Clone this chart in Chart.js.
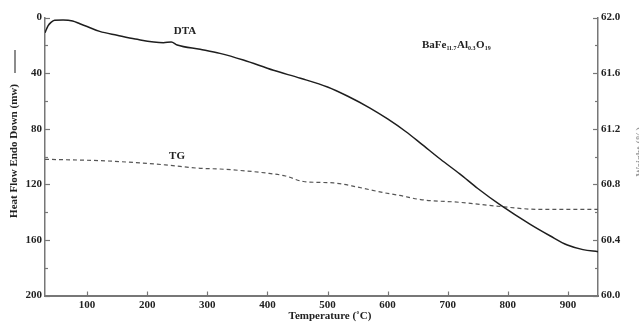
<!DOCTYPE html>
<html><head><meta charset="utf-8">
<script src="https://cdn.jsdelivr.net/npm/chart.js@4.4.1/dist/chart.umd.min.js"></script>
<style>html,body{margin:0;padding:0;background:#fff;}canvas{display:block;}</style>
</head><body>
<canvas id="c" width="639" height="323"></canvas>
<script>
const dtaTemps = [30,35,40,46,60,76,88,100,121,150,180,227,240,250,288,321,360,410,455,500,533,570,600,630,655,688,720,750,788,838,870,899,925,950];
const dtaValues = [11,6,3.5,2,1.8,2.5,4.5,6.5,10,12.8,15.5,18.1,17.6,19.8,22.9,25.8,30.6,38,43.7,50,56.5,65,73,82,90.5,102,112.5,123,135,149,157,163.7,167,168.5];
const tgTemps = [30,121,166,230,288,321,400,430,460,510,550,593,620,655,721,788,850,950];
const tgValues = [60.98,60.97,60.96,60.94,60.915,60.91,60.88,60.86,60.82,60.81,60.78,60.74,60.72,60.69,60.67,60.64,60.62,60.62];
const xTicks = [100,200,300,400,500,600,700,800,900];
const leftTicks = [0,40,80,120,160,200];
const rightTicks = [60.0,60.4,60.8,61.2,61.6,62.0];

const FONT = "'Liberation Serif', 'DejaVu Serif', serif";
const tickFont = {family: FONT, size: 11, weight: 'bold'};
const AX = '#777';

const decor = {
  id: 'decor',
  afterDraw(chart) {
    const ctx = chart.ctx, ca = chart.chartArea;
    const y1 = chart.scales.y1, y2 = chart.scales.y2, x = chart.scales.x;
    ctx.save();
    ctx.strokeStyle = AX; ctx.lineWidth = 1.2;
    for (let v = 0; v <= 200; v += 20) {
      const p = Math.round(y1.getPixelForValue(v)) + 0.5;
      const len = (v % 40 === 0) ? 5 : 3;
      ctx.beginPath(); ctx.moveTo(ca.left, p); ctx.lineTo(ca.left + len, p); ctx.stroke();
    }
    for (let i = 0; i <= 10; i++) {
      const v = 60 + i * 0.2;
      const p = Math.round(y2.getPixelForValue(v)) + 0.5;
      const len = (i % 2 === 0) ? 5 : 3;
      ctx.beginPath(); ctx.moveTo(ca.right, p); ctx.lineTo(ca.right - len, p); ctx.stroke();
    }
    xTicks.forEach(v => {
      const p = Math.round(x.getPixelForValue(v)) + 0.5;
      ctx.beginPath(); ctx.moveTo(p, ca.bottom); ctx.lineTo(p, ca.bottom - 4); ctx.stroke();
    });
    // Left axis title
    ctx.fillStyle = '#222';
    ctx.font = "bold 11px " + FONT;
    ctx.save();
    ctx.translate(14, 151); ctx.rotate(-Math.PI / 2);
    ctx.textAlign = 'center'; ctx.textBaseline = 'middle';
    ctx.fillText('Heat Flow Endo Down (mw)', 0, 0);
    ctx.restore();
    ctx.strokeStyle = '#666'; ctx.lineWidth = 1.5;
    ctx.beginPath(); ctx.moveTo(15, 50); ctx.lineTo(15, 73); ctx.stroke();
    // Right axis title (cut off)
    ctx.save();
    ctx.fillStyle = '#999';
    ctx.font = "bold 10px " + FONT;
    ctx.translate(640, 152); ctx.rotate(-Math.PI / 2);
    ctx.textAlign = 'center'; ctx.textBaseline = 'middle';
    ctx.fillText('Weight (%)', 0, 0);
    ctx.restore();
    // X title
    ctx.fillStyle = '#222';
    ctx.font = "bold 11px " + FONT;
    ctx.textAlign = 'center'; ctx.textBaseline = 'middle';
    ctx.fillText('Temperature (\u02DAC)', 330, 316);
    // Series labels
    ctx.font = "bold 11px " + FONT;
    ctx.fillText('DTA', 185, 31);
    ctx.fillText('TG', 177, 156);
    // Compound label
    const parts = [['BaFe', 0], ['11.7', 1], ['Al', 0], ['0.3', 1], ['O', 0], ['19', 1]];
    let cx = 422; const base = 48;
    ctx.textAlign = 'left'; ctx.textBaseline = 'alphabetic';
    parts.forEach(([t, sub]) => {
      ctx.font = sub ? "bold 6px " + FONT : "bold 11px " + FONT;
      ctx.fillText(t, cx, sub ? base + 2 : base);
      cx += ctx.measureText(t).width + (sub ? 0.5 : 0);
    });
    ctx.restore();
  }
};

const dtaData = dtaTemps.map((t, i) => ({x: t, y: dtaValues[i]}));
const tgData = tgTemps.map((t, i) => ({x: t, y: tgValues[i]}));

new Chart(document.getElementById('c'), {
  type: 'line',
  data: {
    datasets: [
      {label: 'DTA', data: dtaData, yAxisID: 'y1', borderColor: '#1e1e1e', borderWidth: 1.5, pointRadius: 0, cubicInterpolationMode: 'monotone', fill: false},
      {label: 'TG', data: tgData, yAxisID: 'y2', borderColor: '#555', borderWidth: 1.2, borderDash: [4, 3], pointRadius: 0, cubicInterpolationMode: 'monotone', fill: false}
    ]
  },
  options: {
    responsive: false,
    animation: false,
    devicePixelRatio: 1,
    layout: {padding: {top: 17.5, left: 0, right: 0, bottom: 0}},
    plugins: {legend: {display: false}, tooltip: {enabled: false}, title: {display: false}},
    scales: {
      x: {
        type: 'linear', min: 30, max: 950,
        afterBuildTicks: s => { s.ticks = xTicks.map(v => ({value: v})); },
        afterFit: s => { s.height = 27.5; },
        ticks: {font: tickFont, color: '#222', padding: 3, maxRotation: 0},
        grid: {drawOnChartArea: false, drawTicks: false},
        border: {display: true, color: AX, width: 2}
      },
      y1: {
        type: 'linear', position: 'left', min: 0, max: 200, reverse: true,
        afterBuildTicks: s => { s.ticks = leftTicks.map(v => ({value: v})); },
        afterFit: s => { s.width = 45; },
        ticks: {font: tickFont, color: '#222', padding: 3},
        grid: {drawOnChartArea: false, drawTicks: false},
        border: {display: true, color: AX, width: 1.5}
      },
      y2: {
        type: 'linear', position: 'right', min: 60, max: 62,
        afterBuildTicks: s => { s.ticks = rightTicks.map(v => ({value: v})); },
        afterFit: s => { s.width = 41; },
        ticks: {font: tickFont, color: '#222', padding: 3, callback: v => Number(v).toFixed(1)},
        grid: {drawOnChartArea: false, drawTicks: false},
        border: {display: true, color: AX, width: 1.5}
      }
    }
  },
  plugins: [decor]
});
</script>
</body></html>
